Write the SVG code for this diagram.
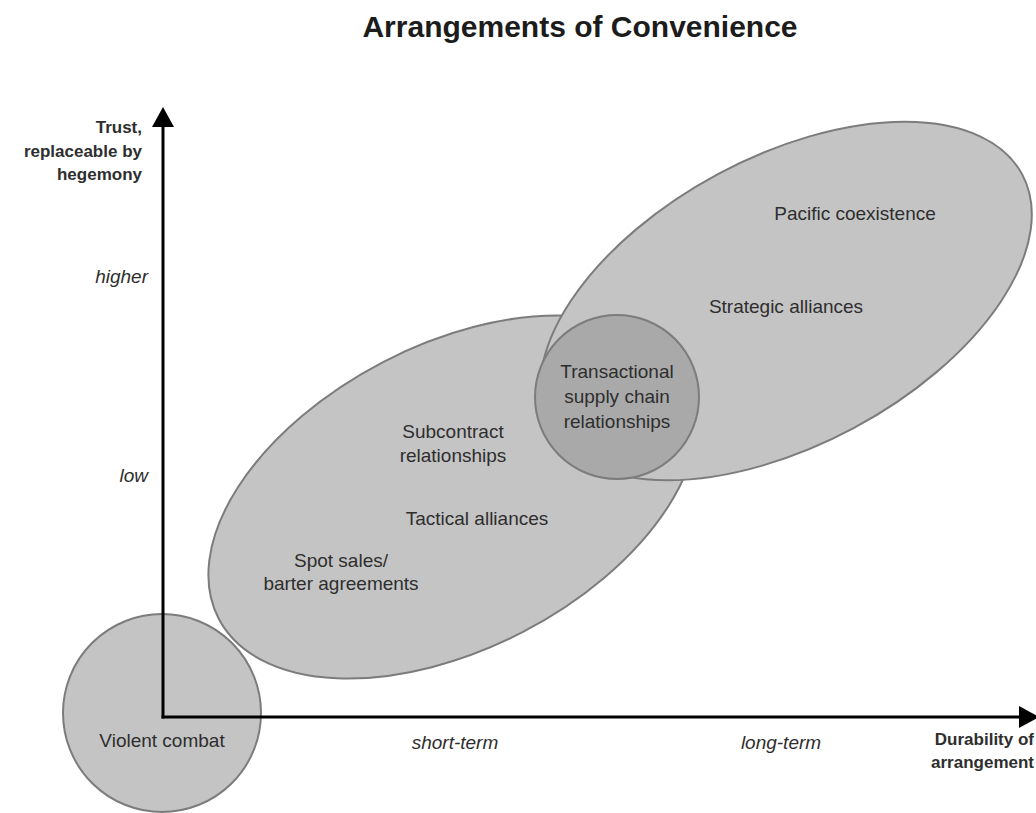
<svg xmlns="http://www.w3.org/2000/svg" width="1036" height="813" viewBox="0 0 1036 813">
<defs>
<style>
text{font-family:"Liberation Sans",Arial,sans-serif;fill:#2e2e2e}
.t{font-size:19px;text-anchor:middle}
.i{font-size:19px;font-style:italic}
.b{font-size:17px;font-weight:bold;text-anchor:end}
.title{font-size:30px;font-weight:bold;text-anchor:middle;fill:#1c1c1c}
.e{fill:#c4c4c4;stroke:#7c7c7c;stroke-width:2}
.d{fill:#a9a9a9;stroke:#7c7c7c;stroke-width:2}
.ax{stroke:#000;stroke-width:3;fill:none}
</style>
<marker id="arr" viewBox="0 0 20 22" markerWidth="20" markerHeight="22" refX="2" refY="11" orient="auto" markerUnits="userSpaceOnUse">
<path d="M0,0 L20,11 L0,22 z" fill="#000"/>
</marker>
</defs>
<rect width="1036" height="813" fill="#fff"/>
<text class="title" x="580" y="37">Arrangements of Convenience</text>

<g id="short-term-ellipse">
<ellipse class="e" cx="453" cy="497" rx="264" ry="152" transform="rotate(-27.4 453 497)"/>
</g>
<g id="long-term-ellipse">
<ellipse class="e" cx="786" cy="301" rx="268" ry="144" transform="rotate(-28.2 786 301)"/>
</g>
<g id="transactional">
<circle class="d" cx="617" cy="397" r="82"/>
<text class="t" x="617" y="378">Transactional</text>
<text class="t" x="617" y="403">supply chain</text>
<text class="t" x="617" y="428">relationships</text>
</g>
<g id="violent-combat">
<circle class="e" cx="162" cy="713" r="99"/>
<text class="t" x="162" y="747">Violent combat</text>
</g>
<g id="pacific">
<text class="t" x="855" y="220">Pacific coexistence</text>
</g>
<g id="strategic">
<text class="t" x="786" y="313">Strategic alliances</text>
</g>
<g id="subcontract">
<text class="t" x="453" y="438">Subcontract</text>
<text class="t" x="453" y="462">relationships</text>
</g>
<g id="tactical">
<text class="t" x="477" y="525">Tactical alliances</text>
</g>
<g id="spot-sales">
<text class="t" x="341" y="567">Spot sales/</text>
<text class="t" x="341" y="590">barter agreements</text>
</g>

<g id="connectors">
<line class="ax" x1="163" y1="718.5" x2="163" y2="125" marker-end="url(#arr)"/>
<line class="ax" x1="161.5" y1="717" x2="1021" y2="717" marker-end="url(#arr)"/>
</g>

<g id="y-axis-labels">
<text class="b" x="142" y="133">Trust,</text>
<text class="b" x="142" y="157">replaceable by</text>
<text class="b" x="142" y="180">hegemony</text>
<text class="i" x="148" y="283" text-anchor="end">higher</text>
<text class="i" x="148" y="482" text-anchor="end">low</text>
</g>
<g id="x-axis-labels">
<text class="i" x="455" y="749" text-anchor="middle">short-term</text>
<text class="i" x="781" y="749" text-anchor="middle">long-term</text>
<text class="b" x="1034" y="745">Durability of</text>
<text class="b" x="1034" y="768">arrangement</text>
</g>
</svg>
